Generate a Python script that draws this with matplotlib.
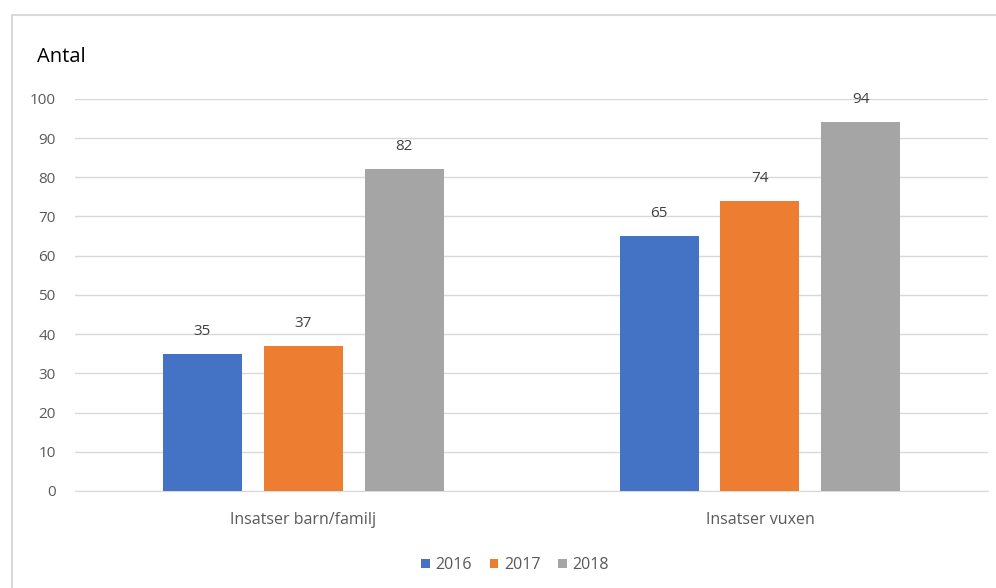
import numpy as np
import matplotlib
matplotlib.use('Agg')
import matplotlib.pyplot as plt
from matplotlib.patches import Rectangle

# Data
categories = ['Insatser barn/familj', 'Insatser vuxen']
years = ['2016', '2017', '2018']
values_2016 = [35, 65]
values_2017 = [37, 74]
values_2018 = [82, 94]
colors = ['#4472C4', '#ED7D31', '#A5A5A5']

plt.rcParams['font.family'] = ['Open Sans', 'DejaVu Sans']

fig = plt.figure(figsize=(9.96, 5.88), dpi=100)
ax = fig.add_axes([0.0753, 0.165, 0.917, 0.667])

# light border around the chart area
fig.patches.append(Rectangle((12 / 996, -0.05), 1.2, (588 - 15) / 588 + 0.05,
                             transform=fig.transFigure, fill=False,
                             edgecolor='#d9d9d9', linewidth=1.5))

x = np.arange(len(categories))
width = 0.173
step = 0.221
series = [values_2016, values_2017, values_2018]
for i, (vals, yr, col) in enumerate(zip(series, years, colors)):
    pos = x + (i - 1) * step
    bars = ax.bar(pos, vals, width, color=col, label=yr, zorder=3)
    for b, v in zip(bars, vals):
        ax.text(b.get_x() + b.get_width() / 2, v + 3.8, str(v),
                ha='center', va='bottom', fontsize=11, color='#404040')

ax.set_xlim(-0.5, 1.5)
ax.set_ylim(0, 100)
ax.set_yticks(range(0, 101, 10))
ax.yaxis.grid(True, color='#d9d9d9', linewidth=1, zorder=0)
ax.set_xticks(x)
ax.set_xticklabels(categories, fontsize=11.5, color='#595959')
ax.tick_params(axis='y', labelsize=11, labelcolor='#595959', length=0, pad=14)
ax.tick_params(axis='x', length=0, pad=15)
for s in ['top', 'right', 'left']:
    ax.spines[s].set_visible(False)
ax.spines['bottom'].set_color('#d9d9d9')

fig.text(37 / 996, 1 - 57 / 588, 'Antal', fontsize=14.5, color='black',
         va='center', ha='left')

fig.legend(loc='center', bbox_to_anchor=(515 / 996, 1 - 565 / 588), ncol=3,
           frameon=False, fontsize=11.5, handlelength=0.55, handleheight=0.55,
           handletextpad=0.35, columnspacing=1.1, labelcolor='#595959')

fig.savefig('out.png', dpi=100, facecolor='white')
